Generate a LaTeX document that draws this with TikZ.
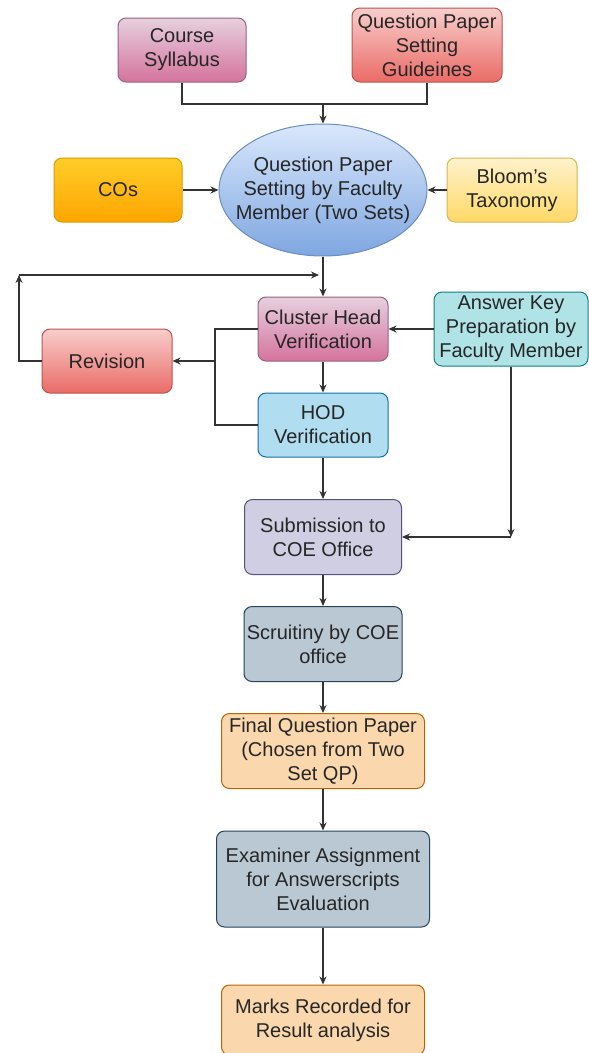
\documentclass[tikz,border=0pt]{standalone}
\usepackage{fontspec}
\setmainfont{Liberation Sans}
\usetikzlibrary{shapes.geometric,arrows.meta}
\definecolor{pinkTop}{HTML}{E6D0DE}\definecolor{pinkBot}{HTML}{D5739D}\definecolor{pinkLine}{HTML}{996185}
\definecolor{redTop}{HTML}{F8CECC}\definecolor{redBot}{HTML}{EA6B66}\definecolor{redLine}{HTML}{B85450}
\definecolor{blueTop}{HTML}{DAE8FC}\definecolor{blueBot}{HTML}{7EA6E0}\definecolor{blueLine}{HTML}{6C8EBF}
\definecolor{orgTop}{HTML}{FFCD28}\definecolor{orgBot}{HTML}{FFA500}\definecolor{orgLine}{HTML}{D79B00}
\definecolor{ylwTop}{HTML}{FFF2CC}\definecolor{ylwBot}{HTML}{FFD966}\definecolor{ylwLine}{HTML}{D6B656}
\definecolor{tealFill}{HTML}{B0E3E6}\definecolor{tealLine}{HTML}{0E8088}
\definecolor{skyFill}{HTML}{B1DDF0}\definecolor{skyLine}{HTML}{10739E}
\definecolor{lilacFill}{HTML}{D0CEE2}\definecolor{lilacLine}{HTML}{56517E}
\definecolor{slateFill}{HTML}{BAC8D3}\definecolor{slateLine}{HTML}{23445D}
\definecolor{peachFill}{HTML}{FAD7AC}\definecolor{peachLine}{HTML}{B46504}
\begin{document}
\begin{tikzpicture}[x=1pt,y=-1pt,
    box/.style={draw, rounded corners=8pt, line width=1pt, align=center, inner sep=0pt,
      font=\fontsize{20}{24}\selectfont, text=black!85},
    ln/.style={line width=1.2pt, draw=black!80},
    arr/.style={ln, -{Stealth[length=8pt,width=7pt]}}]
  \useasboundingbox (0,0) rectangle (589,1053);
  % top inputs
  \node[box, minimum width=128, minimum height=64, draw=pinkLine, top color=pinkTop, bottom color=pinkBot] (syl) at (182,50) {Course\\Syllabus};
  \node[box, minimum width=150, minimum height=74, draw=redLine, top color=redTop, bottom color=redBot] (guide) at (427,45) {Question Paper\\Setting\\Guideines};
  \node[box, ellipse, inner xsep=-16pt, inner ysep=0pt, minimum width=208, minimum height=132, draw=blueLine, top color=blueTop, bottom color=blueBot] (qps) at (323,190) {Question Paper\\Setting by Faculty\\Member (Two Sets)};
  \node[box, minimum width=128, minimum height=64, draw=orgLine, top color=orgTop, bottom color=orgBot] (cos) at (118,190) {COs};
  \node[box, minimum width=130, minimum height=64, draw=ylwLine, top color=ylwTop, bottom color=ylwBot] (bloom) at (512,190) {Bloom's\\Taxonomy};
  % verification
  \node[box, minimum width=130, minimum height=64, draw=pinkLine, top color=pinkTop, bottom color=pinkBot] (clu) at (323,329) {Cluster Head\\Verification};
  \node[box, minimum width=130, minimum height=64, draw=redLine, top color=redTop, bottom color=redBot] (rev) at (107,361) {Revision};
  \node[box, minimum width=154, minimum height=74, draw=tealLine, fill=tealFill] (ans) at (511,329) {Answer Key\\Preparation by\\Faculty Member};
  \node[box, minimum width=130, minimum height=64, draw=skyLine, fill=skyFill] (hod) at (323,425) {HOD\\Verification};
  % COE
  \node[box, minimum width=157, minimum height=75, draw=lilacLine, fill=lilacFill] (sub) at (323,537) {Submission to\\COE Office};
  \node[box, minimum width=158, minimum height=75, draw=slateLine, fill=slateFill] (scr) at (323,644) {Scruitiny by COE\\office};
  \node[box, minimum width=203, minimum height=75, draw=peachLine, fill=peachFill] (fin) at (323,751) {Final Question Paper\\(Chosen from Two\\Set QP)};
  \node[box, minimum width=213, minimum height=96, draw=slateLine, fill=slateFill] (exa) at (323,879) {Examiner Assignment\\for Answerscripts\\Evaluation};
  \node[box, minimum width=203, minimum height=70, draw=peachLine, fill=peachFill] (mks) at (323,1020) {Marks Recorded for\\Result analysis};

  \coordinate (jn) at (323,104);
  \coordinate (lp) at (19,275);
  \coordinate (jr) at (215,361);
  \coordinate (ak) at (ans.south |- sub.east);

  \draw[ln] (syl.south) |- (jn) -| (guide.south);
  \draw[arr] (jn) -- (qps.north);
  \draw[arr] (cos.east) -- (qps.west);
  \draw[arr] (bloom.west) -- (qps.east);
  \draw[arr] (qps.south) -- (clu.north);
  \draw[arr] (rev.west) -| (lp);
  \draw[arr, shorten >=4pt] (lp) -- (lp -| clu.north);
  \draw[ln] (clu.west) -| (jr) |- (hod.west);
  \draw[arr] (jr) -- (rev.east);
  \draw[arr] (clu) -- (hod);
  \draw[arr] (ans) -- (clu);
  \draw[arr] (ans.south) -- (ak);
  \draw[arr] (ak) -- (sub.east);
  \draw[arr] (hod) -- (sub);
  \draw[arr] (sub) -- (scr);
  \draw[arr] (scr) -- (fin);
  \draw[arr] (fin) -- (exa);
  \draw[arr] (exa) -- (mks);
\end{tikzpicture}
\end{document}
